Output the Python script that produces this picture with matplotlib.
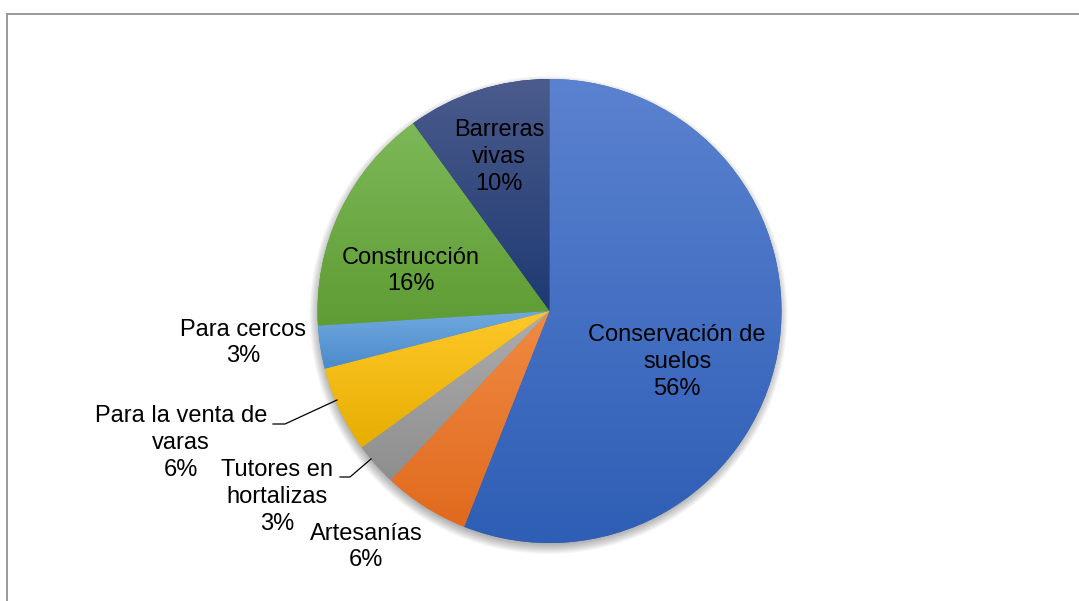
import numpy as np
import matplotlib
matplotlib.use("Agg")
import matplotlib.pyplot as plt
from matplotlib.colors import LinearSegmentedColormap, to_rgb
from matplotlib.lines import Line2D
from matplotlib.patches import Circle

# ---- data ----
categories = ["Conservación de\nsuelos", "Artesanías", "Tutores en\nhortalizas",
              "Para la venta de\nvaras", "Para cercos", "Construcción", "Barreras\nvivas"]
percentages = [56, 6, 3, 6, 3, 16, 10]

top_colors = ["#5B82D0", "#F08A43", "#ADADAD", "#FFC82A", "#70A9DE", "#7DB858", "#4B5B8C"]
bottom_colors = ["#2E5EB5", "#E06A1E", "#8E8E8E", "#E6AE00", "#4A8ACB", "#5E9C34", "#1E3A72"]

W, H = 1079, 601
CX, CY, R = 549.5, 311.0, 232.0

plt.rcParams['font.family'] = ['Liberation Sans', 'DejaVu Sans']

fig = plt.figure(figsize=(W / 100, H / 100), dpi=100)
ax = fig.add_axes([0, 0, 1, 1])
ax.set_xlim(-CX / R, (W - CX) / R)
ax.set_ylim(-(H - CY) / R, CY / R)
ax.set_aspect('equal')
ax.axis('off')


def px(x, y):
    return ((x - CX) / R, (CY - y) / R)


# soft shadow
sx, sy = px(CX - 1, CY + 4)
for i in range(12):
    rr = 1 + (i - 4) / R
    ax.add_patch(Circle((sx, sy), rr, facecolor='black', edgecolor='none',
                        alpha=0.03, zorder=0))

wedges, _ = ax.pie(percentages, startangle=90, counterclock=False, radius=1,
                   center=(0, 0), colors=bottom_colors,
                   wedgeprops=dict(linewidth=0, edgecolor='none'))

for w, ct, cb in zip(wedges, top_colors, bottom_colors):
    w.set_zorder(1)
    path = w.get_path()
    verts = w.get_patch_transform().transform(path.vertices)
    x0, x1 = verts[:, 0].min(), verts[:, 0].max()
    y0, y1 = verts[:, 1].min(), verts[:, 1].max()
    cmap = LinearSegmentedColormap.from_list("g", [to_rgb(cb), to_rgb(ct)])
    grad = np.linspace(0, 1, 256).reshape(-1, 1)
    im = ax.imshow(grad, cmap=cmap, origin='lower', extent=[x0, x1, y0, y1],
                   aspect='auto', zorder=2, interpolation='bilinear')
    im.set_clip_path(w)

ax.set_xlim(-CX / R, (W - CX) / R)
ax.set_ylim(-(H - CY) / R, CY / R)

# labels
label_pos = [(677, 362), (366, 547), (277, 497), (181, 443), (243, 343), (411, 271), (499, 157)]
for cat, pct, (lx, ly) in zip(categories, percentages, label_pos):
    x, y = px(lx, ly)
    ax.text(x, y, f"{cat}\n{pct}%", ha='center', va='center', fontsize=17,
            color='black', linespacing=1.27, zorder=5)

# leader lines
for pts in [[(273, 424), (285, 424), (337, 400)], [(340, 477), (350, 477), (371, 459)]]:
    xy = np.array([px(a, b) for a, b in pts])
    ax.plot(xy[:, 0], xy[:, 1], color='black', lw=0.9, zorder=5)

# frame
fig.add_artist(Line2D([7 / W, 1.0], [1 - 14 / H, 1 - 14 / H], color='#9A9A9A', lw=1.4,
                      transform=fig.transFigure))
fig.add_artist(Line2D([7 / W, 7 / W], [1 - 14 / H, 0], color='#9A9A9A', lw=1.4,
                      transform=fig.transFigure))

fig.savefig("out.png", dpi=100)
